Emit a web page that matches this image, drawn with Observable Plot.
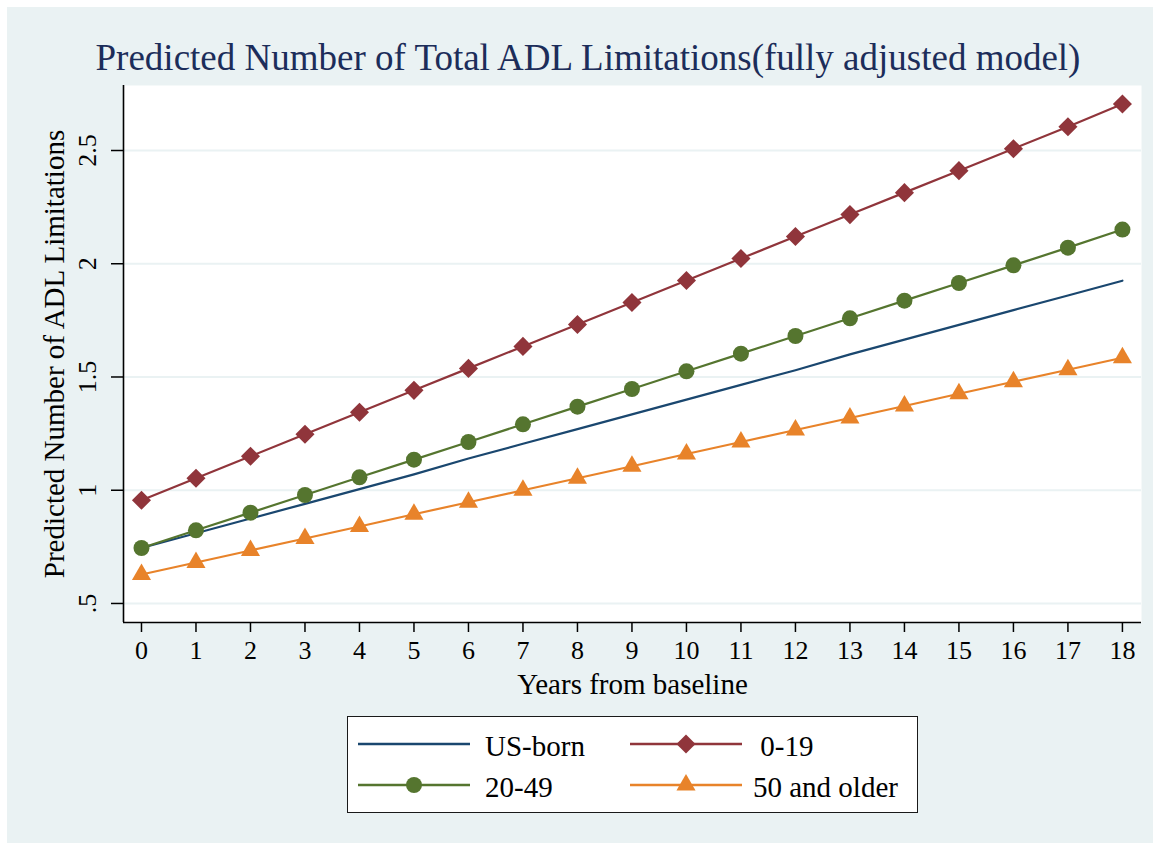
<!DOCTYPE html>
<html>
<head>
<meta charset="utf-8">
<script src="https://cdn.jsdelivr.net/npm/d3@7"></script>
<script src="https://cdn.jsdelivr.net/npm/@observablehq/plot@0.6"></script>
<style>
  body { margin: 0; background: #ffffff; }
  #page { position: relative; width: 1160px; height: 850px; overflow: hidden;
          font-family: "Liberation Serif", "Times New Roman", serif; }
  #bg { position: absolute; left: 7px; top: 7px; width: 1146px; height: 836px; background: #eaf2f3; }
  #title { position: absolute; left: 0; top: 39px; width: 1176px; text-align: center;
           font-size: 37px; line-height: 37px; color: #1c2d5a; white-space: nowrap; }
  #chart { position: absolute; left: 0; top: 0; }
  #legend { position: absolute; left: 347px; top: 716px; width: 571px; height: 97px;
            box-sizing: border-box; border: 1.5px solid #1a1a1a; background: #ffffff; }
  .item-svg { position: absolute; }
  .item-txt { position: absolute; font-size: 29px; line-height: 30px; color: #000; white-space: pre; }
</style>
</head>
<body>
<div id="page">
  <div id="bg"></div>
  <div id="title"></div>
  <div id="chart"></div>
  <div id="legend"></div>
</div>
<script>
// ---------- data ----------
const titleText = "Predicted Number of Total ADL Limitations(fully adjusted model)";
const xTitle = "Years from baseline";
const yTitle = "Predicted Number of ADL Limitations";
const years = [0,1,2,3,4,5,6,7,8,9,10,11,12,13,14,15,16,17,18];
const usBorn   = [0.745,0.810,0.875,0.940,1.005,1.070,1.140,1.205,1.270,1.335,1.400,1.465,1.530,1.600,1.665,1.730,1.795,1.860,1.925];
const age0_19  = [0.956,1.053,1.150,1.247,1.344,1.441,1.538,1.635,1.732,1.829,1.926,2.023,2.120,2.217,2.314,2.411,2.508,2.605,2.705];
const age20_49 = [0.745,0.823,0.901,0.979,1.057,1.135,1.213,1.291,1.369,1.447,1.525,1.603,1.681,1.759,1.837,1.915,1.993,2.071,2.151];
const age50up  = [0.628,0.681,0.734,0.787,0.840,0.894,0.947,1.000,1.053,1.106,1.160,1.213,1.266,1.319,1.372,1.426,1.479,1.532,1.585];
const seriesNames = ["US-born", "0-19", "20-49", "50 and older"];
const seriesColors = ["#1a476f", "#90353b", "#55752f", "#e8832a"];
const seriesSymbols = [null, "diamond2", "circle", "triangle"];
const yTicks = [0.5, 1, 1.5, 2, 2.5];
const yTickLabels = [".5", "1", "1.5", "2", "2.5"];
const xDomain = [-0.33, 18.35];
const yDomain = [0.416, 2.787];

// ---------- table ----------
const seriesValues = [usBorn, age0_19, age20_49, age50up];
const rows = [];
seriesNames.forEach((name, i) => {
  years.forEach((yr, j) => rows.push({series: name, year: yr, value: seriesValues[i][j]}));
});
const symbolR = {"diamond2": 8.6, "circle": 8, "triangle": 7.1};

document.getElementById("title").textContent = titleText;

const marks = [
  Plot.frame({fill: "#ffffff", stroke: null}),
  Plot.ruleY(yTicks, {stroke: "#eaf2f3", strokeWidth: 2.2}),
  Plot.ruleX([xDomain[0]], {stroke: "#000", strokeWidth: 1.6}),
  Plot.ruleY([yDomain[0]], {stroke: "#000", strokeWidth: 1.6}),
  Plot.axisX({ticks: years, tickSize: 10, tickPadding: 8, tickFormat: d => String(d),
              fontSize: 26, strokeWidth: 1.5, label: null}),
  Plot.axisY({ticks: yTicks, tickSize: 12, tickPadding: 16, tickRotate: -90,
              tickFormat: d => yTickLabels[yTicks.indexOf(d)], fontSize: 26, strokeWidth: 1.5, label: null}),
  Plot.text([xTitle], {frameAnchor: "bottom", dy: 62, fontSize: 29, textAnchor: "middle", lineAnchor: "middle", fill: "#000"}),
  Plot.text([yTitle], {frameAnchor: "left", dx: -69, rotate: -90, fontSize: 29, textAnchor: "middle", lineAnchor: "middle", fill: "#000"})
];
seriesNames.forEach((name, i) => {
  const d = rows.filter(r => r.series === name);
  marks.push(Plot.line(d, {x: "year", y: "value", stroke: seriesColors[i], strokeWidth: 2.2}));
  if (seriesSymbols[i]) {
    marks.push(Plot.dot(d, {x: "year", y: "value", symbol: () => seriesSymbols[i],
      r: symbolR[seriesSymbols[i]], fill: seriesColors[i], stroke: "none"}));
  }
});

const chart = Plot.plot({
  width: 1160, height: 700,
  marginTop: 85, marginBottom: 78, marginLeft: 123, marginRight: 19,
  style: {background: "transparent", fontFamily: "Liberation Serif, Times New Roman, serif", color: "#000", overflow: "visible"},
  x: {domain: xDomain},
  y: {domain: yDomain},
  symbol: {type: "identity"},
  marks
});
document.getElementById("chart").appendChild(chart);

// ---------- legend ----------
const legend = document.getElementById("legend");
const cols = [{svgX: 10, txtX: 137}, {svgX: 282, txtX: 405}];
const rowsY = [{line: 27, txt: 14}, {line: 68, txt: 55}];
const legendLabels = ["US-born", " 0-19", "20-49", "50 and older"];
seriesNames.forEach((name, i) => {
  const c = cols[i % 2], r = rowsY[Math.floor(i / 2)];
  const ns = "http://www.w3.org/2000/svg";
  const svg = document.createElementNS(ns, "svg");
  svg.setAttribute("class", "item-svg");
  svg.setAttribute("width", 112); svg.setAttribute("height", 30);
  svg.style.left = c.svgX + "px"; svg.style.top = (r.line - 15) + "px";
  const ln = document.createElementNS(ns, "line");
  ln.setAttribute("x1", 0); ln.setAttribute("x2", 112); ln.setAttribute("y1", 15); ln.setAttribute("y2", 15);
  ln.setAttribute("stroke", seriesColors[i]); ln.setAttribute("stroke-width", 2.4);
  svg.appendChild(ln);
  const sym = seriesSymbols[i];
  if (sym) {
    const p = document.createElementNS(ns, "path");
    const rr = symbolR[sym];
    const gen = sym === "circle" ? d3.symbolCircle : sym === "triangle" ? d3.symbolTriangle : d3.symbolDiamond2;
    p.setAttribute("d", d3.symbol(gen, Math.PI * rr * rr)());
    p.setAttribute("transform", "translate(56,15)");
    p.setAttribute("fill", seriesColors[i]);
    svg.appendChild(p);
  }
  legend.appendChild(svg);
  const t = document.createElement("div");
  t.className = "item-txt";
  t.style.left = c.txtX + "px"; t.style.top = r.txt + "px";
  t.textContent = legendLabels[i];
  legend.appendChild(t);
});
</script>
</body>
</html>
